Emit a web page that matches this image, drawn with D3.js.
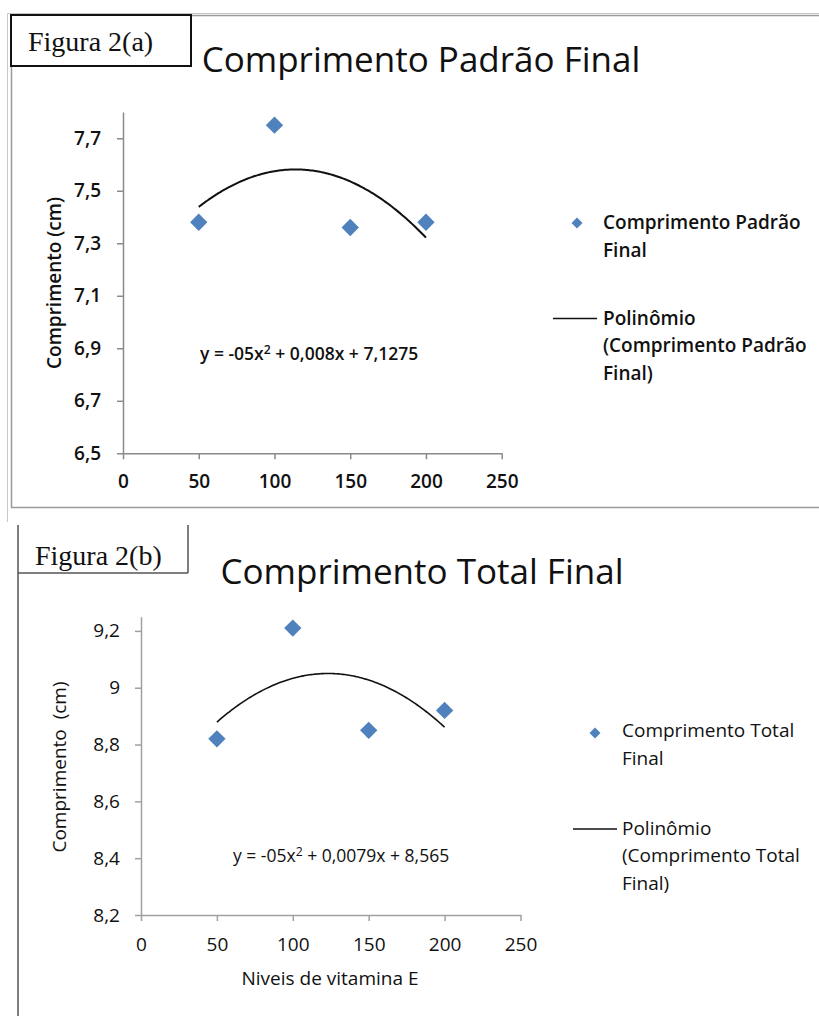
<!DOCTYPE html>
<html>
<head>
<meta charset="utf-8">
<script src="https://cdn.jsdelivr.net/npm/d3@7"></script>
<style>
  body { margin: 0; background: #fff; }
  svg { display: block; }
  text { font-family: "Open Sans", sans-serif; }
  text.serif { font-family: "Liberation Serif", "DejaVu Serif", serif; }
</style>
</head>
<body>
<div id="chart"></div>
<script>
// values
const niveis = [50, 100, 150, 200];
const padraoFinal = [7.38, 7.75, 7.36, 7.38];
const totalFinal = [8.82, 9.21, 8.85, 8.92];
const xTicks = [0, 50, 100, 150, 200, 250];
const yTicksA = [6.5, 6.7, 6.9, 7.1, 7.3, 7.5, 7.7];
const yTicksB = [8.2, 8.4, 8.6, 8.8, 9, 9.2];
const eqA = ["y = -05x", "2", " + 0,008x + 7,1275"];
const eqB = ["y = -05x", "2", " + 0,0079x + 8,565"];

const W = 819, H = 1016;
const blue = "#4f81bd";

const svg = d3.select("#chart").append("svg")
  .attr("width", W)
  .attr("height", H);

svg.append("rect").attr("width", W).attr("height", H).attr("fill", "#fff");

// comma decimal like the original
const fmt = v => String(v).replace(".", ",");

// least squares 2nd order polynomial (the excel trend line)
function fitQuad(xs, ys) {
  let s = [0, 0, 0, 0, 0], t = [0, 0, 0];
  xs.forEach((x, i) => {
    for (let k = 0; k < 5; k++) s[k] += Math.pow(x, k);
    for (let k = 0; k < 3; k++) t[k] += ys[i] * Math.pow(x, k);
  });
  const M = [[s[0], s[1], s[2]], [s[1], s[2], s[3]], [s[2], s[3], s[4]]];
  const det = m => m[0][0] * (m[1][1] * m[2][2] - m[1][2] * m[2][1])
    - m[0][1] * (m[1][0] * m[2][2] - m[1][2] * m[2][0])
    + m[0][2] * (m[1][0] * m[2][1] - m[1][1] * m[2][0]);
  const D = det(M);
  const coef = [0, 1, 2].map(c => {
    const m = M.map((row, r) => row.map((v, j) => j === c ? t[r] : v));
    return det(m) / D;
  });
  return x => coef[0] + coef[1] * x + coef[2] * x * x;
}

function drawPanel(p) {
  const g = svg.append("g");
  const x = d3.scaleLinear().domain([0, 250]).range(p.xRange);
  const y = d3.scaleLinear().domain(p.yDomain).range(p.yRange);

  // title
  g.append("text")
    .attr("x", p.title.x).attr("y", p.title.y)
    .attr("text-anchor", "middle")
    .attr("font-size", p.title.size)
    .attr("fill", "#111")
    .text(p.title.text);

  // axes
  const yAxis = g.append("g")
    .attr("transform", `translate(${p.xRange[0]},0)`)
    .call(d3.axisLeft(y).tickValues(p.yTicks).tickFormat(fmt)
      .tickSize(6).tickSizeOuter(0).tickPadding(p.yPad));
  const xAxis = g.append("g")
    .attr("transform", `translate(0,${p.yRange[0]})`)
    .call(d3.axisBottom(x).tickValues(xTicks).tickFormat(fmt)
      .tickSize(6).tickSizeOuter(0).tickPadding(p.xPad));
  [xAxis, yAxis].forEach(a => {
    a.select(".domain").attr("stroke", p.axisColor).attr("stroke-width", 1.5);
    a.selectAll(".tick line").attr("stroke", p.axisColor).attr("stroke-width", 1.5);
    a.selectAll(".tick text")
      .attr("font-family", "Open Sans")
      .attr("font-size", p.fs)
      .attr("font-weight", p.weight)
      .attr("fill", "#111");
  });

  // y axis title
  g.append("text")
    .attr("transform", `translate(${p.yTitle.x},${p.yTitle.y}) rotate(-90)`)
    .attr("text-anchor", "middle")
    .attr("font-size", p.fs)
    .attr("font-weight", p.weight)
    .attr("fill", "#111")
    .attr("xml:space", "preserve")
    .text(p.yTitle.text);

  if (p.xTitle) {
    g.append("text")
      .attr("x", p.xTitle.x).attr("y", p.xTitle.y)
      .attr("text-anchor", "middle")
      .attr("font-size", p.fs)
      .attr("fill", "#111")
      .text(p.xTitle.text);
  }

  // trend line
  const f = fitQuad(niveis, p.values);
  const xs = d3.range(niveis[0], niveis[niveis.length - 1] + 0.1, 1);
  g.append("path")
    .datum(xs)
    .attr("fill", "none")
    .attr("stroke", "#111")
    .attr("stroke-width", p.lineW)
    .attr("d", d3.line().x(d => x(d)).y(d => y(f(d))));

  // points
  const diamond = d3.symbol().type(d3.symbolSquare).size(150);
  g.selectAll("path.pt")
    .data(niveis.map((n, i) => [n, p.values[i]]))
    .enter().append("path")
    .attr("class", "pt")
    .attr("d", diamond)
    .attr("fill", blue)
    .attr("transform", d => `translate(${x(d[0])},${y(d[1])}) rotate(45)`);

  // equation
  const eq = g.append("text")
    .attr("x", p.eq.x).attr("y", p.eq.y)
    .attr("font-size", p.eq.size)
    .attr("font-weight", p.weight)
    .attr("fill", "#111")
    .attr("xml:space", "preserve");
  eq.append("tspan").text(p.eq.parts[0]);
  eq.append("tspan").attr("dy", -6).attr("font-size", p.eq.size * 0.7).text(p.eq.parts[1]);
  eq.append("tspan").attr("dy", 6).text(p.eq.parts[2]);

  // legend
  const L = p.legend;
  g.append("path")
    .attr("d", d3.symbol().type(d3.symbolSquare).size(60))
    .attr("fill", blue)
    .attr("transform", `translate(${L.markX},${L.markY}) rotate(45)`);
  g.append("line")
    .attr("x1", L.lineX1).attr("x2", L.lineX2)
    .attr("y1", L.lineY).attr("y2", L.lineY)
    .attr("stroke", "#111").attr("stroke-width", 1.5);
  L.rows.forEach(r => {
    g.append("text")
      .attr("x", L.textX).attr("y", r[1])
      .attr("font-size", p.fs)
      .attr("font-weight", p.weight)
      .attr("fill", "#111")
      .text(r[0]);
  });
}

// ---- Figura 2(a) frame ----
svg.append("path").attr("d", "M7.5,522 V13.5 H819").attr("fill", "none").attr("stroke", "#c8c8c8");
svg.append("rect").attr("x", 11.5).attr("y", 15.5).attr("width", 820).attr("height", 492)
  .attr("fill", "none").attr("stroke", "#9a9a9a").attr("stroke-width", 1.5);
svg.append("rect").attr("x", 11).attr("y", 15).attr("width", 180).attr("height", 51)
  .attr("fill", "#fff").attr("stroke", "#111").attr("stroke-width", 2);
svg.append("text").attr("class", "serif").attr("x", 28).attr("y", 51)
  .attr("font-size", 28).attr("fill", "#111")
  .text("Figura 2(a)");

drawPanel({
  values: padraoFinal,
  xRange: [123, 501.7],
  yDomain: [6.5, 7.8], yRange: [453.3, 112],
  yTicks: yTicksA,
  yPad: 16, xPad: 15,
  axisColor: "#8a8a8a",
  fs: 19, weight: 600, lineW: 2,
  title: { text: "Comprimento Padrão Final", x: 421, y: 72, size: 35 },
  yTitle: { text: "Comprimento (cm)", x: 61, y: 283 },
  eq: { parts: eqA, x: 200, y: 360, size: 17.5 },
  legend: {
    markX: 577, markY: 223, lineX1: 553, lineX2: 597, lineY: 318.5, textX: 603,
    rows: [["Comprimento Padrão", 229], ["Final", 256.5], ["Polinômio", 325],
      ["(Comprimento Padrão", 352], ["Final)", 380]]
  }
});

// ---- Figura 2(b) frame ----
svg.append("path").attr("d", "M18,525 V1016 M188,525 V573 M18,573 H188")
  .attr("fill", "none").attr("stroke", "#555").attr("stroke-width", 1.5);
svg.append("text").attr("class", "serif").attr("x", 35).attr("y", 565)
  .attr("font-size", 28).attr("fill", "#111")
  .text("Figura 2(b)");

drawPanel({
  values: totalFinal,
  xRange: [141, 520.5],
  yDomain: [8.2, 9.25], yRange: [915, 616.7],
  yTicks: yTicksB,
  yPad: 15, xPad: 17,
  axisColor: "#a0a0a0",
  fs: 19, weight: 400, lineW: 1.6,
  title: { text: "Comprimento Total Final", x: 422, y: 584, size: 35 },
  yTitle: { text: "Comprimento  (cm)", x: 66, y: 767 },
  xTitle: { text: "Niveis de vitamina E", x: 330, y: 985 },
  eq: { parts: eqB, x: 233, y: 862, size: 17.5 },
  legend: {
    markX: 595, markY: 733, lineX1: 573, lineX2: 617, lineY: 829, textX: 622,
    rows: [["Comprimento Total", 737], ["Final", 765], ["Polinômio", 835],
      ["(Comprimento Total", 862], ["Final)", 890]]
  }
});
</script>
</body>
</html>
